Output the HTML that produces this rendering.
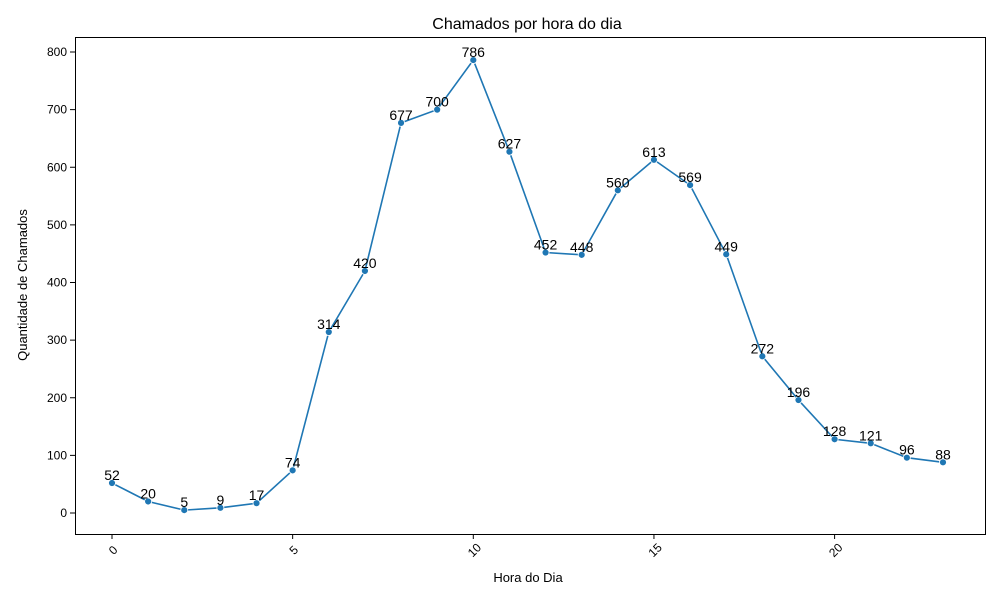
<!DOCTYPE html>
<html><head><meta charset="utf-8"><style>
body{margin:0;background:#fff;}
svg{font-family:"Liberation Sans","DejaVu Sans",sans-serif;}
</style></head><body>
<svg id="chart" width="1000" height="600">
<rect x="0" y="0" width="1000" height="600" fill="#fff"/>
<text x="527" y="29" font-size="16" text-anchor="middle">Chamados por hora do dia</text>
<text x="528" y="582" font-size="13" text-anchor="middle">Hora do Dia</text>
<text transform="translate(27,285) rotate(-90)" font-size="13" text-anchor="middle">Quantidade de Chamados</text>
<g id="axes"></g>
<g id="marks"></g>
<rect x="75.5" y="37.5" width="910" height="497" fill="none" stroke="#000" stroke-width="1"/>
</svg>
<script>
const hours=[0,1,2,3,4,5,6,7,8,9,10,11,12,13,14,15,16,17,18,19,20,21,22,23];
const counts=[52,20,5,9,17,74,314,420,677,700,786,627,452,448,560,613,569,449,272,196,128,121,96,88];
const xTicks=[0,5,10,15,20];
const yTicks=[0,100,200,300,400,500,600,700,800];
const NS="http://www.w3.org/2000/svg";
const xs=h=>112+h*36.13;
const ys=v=>513-v*0.57625;
function mk(tag,attrs,parent){const e=document.createElementNS(NS,tag);for(const k in attrs)e.setAttribute(k,attrs[k]);parent.appendChild(e);return e;}
const axes=document.getElementById('axes'),marks=document.getElementById('marks');
xTicks.forEach(t=>{
 const x=xs(t);
 const l=mk('line',{x1:x,x2:x,y1:534,y2:539,stroke:'#000'},axes);
 
 
 const tx=mk('text',{transform:`translate(${x+4},${553}) rotate(-45)`,'font-size':12,'text-anchor':'middle'},axes);
 tx.textContent=t;
 
 
});
yTicks.forEach(t=>{
 const y=ys(t);
 const l=mk('line',{x1:70,x2:75,y1:y,y2:y,stroke:'#000'},axes);
 
 
 const tx=mk('text',{x:67,y:y+4,'font-size':12,'text-anchor':'end'},axes);
 tx.textContent=t;
 
 
});
const pts=hours.map((h,i)=>xs(h)+','+ys(counts[i])).join(' ');
const line=mk('polyline',{points:pts,fill:'none',stroke:'#1f77b4','stroke-width':1.6},marks);


hours.forEach((h,i)=>{
 const c=mk('circle',{cx:xs(h),cy:ys(counts[i]),r:3.5,fill:'#1f77b4',stroke:'#fff','stroke-width':0.8},marks);
 
 
 const t=mk('text',{x:xs(h),y:ys(counts[i])-3,'font-size':14,'text-anchor':'middle'},marks);
 t.textContent=counts[i];
 
 
});
</script>
</body></html>
